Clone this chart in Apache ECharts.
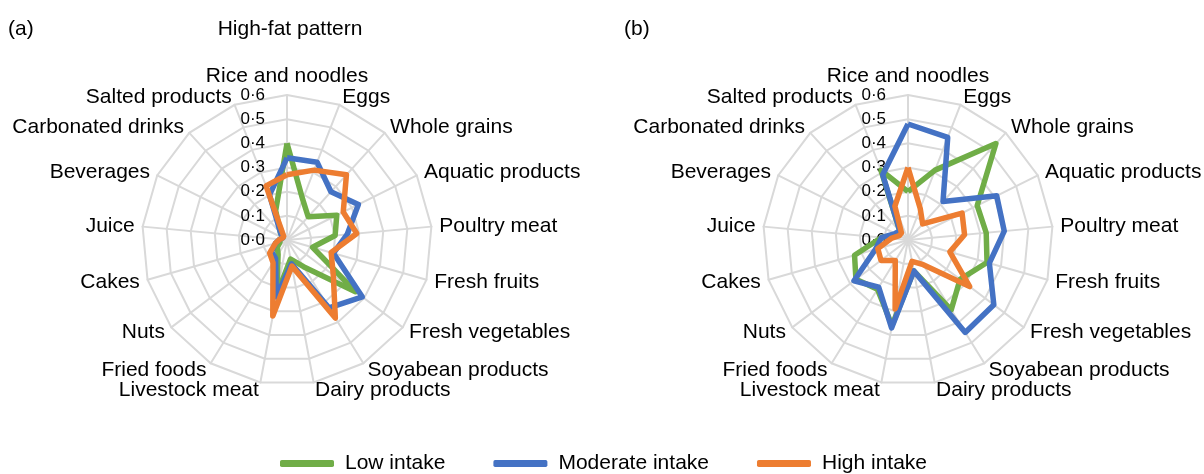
<!DOCTYPE html>
<html>
<head>
<meta charset="utf-8">
<script src="https://cdn.jsdelivr.net/npm/echarts@6/dist/echarts.min.js"></script>
<style>
  html, body { margin: 0; padding: 0; background: #fff; }
  #main { width: 1204px; height: 474px; }
</style>
</head>
<body>
<div id="main"></div>
<script>
// categories, clockwise from the top
const categories = ['Rice and noodles', 'Eggs', 'Whole grains', 'Aquatic products', 'Poultry meat',
  'Fresh fruits', 'Fresh vegetables', 'Soyabean products', 'Dairy products', 'Livestock meat',
  'Fried foods', 'Nuts', 'Cakes', 'Juice', 'Beverages', 'Carbonated drinks', 'Salted products']
const tickValues = [0, 0.1, 0.2, 0.3, 0.4, 0.5, 0.6]
const seriesNames = ['Low intake', 'Moderate intake', 'High intake']

// (a) High-fat pattern
const lowA = [0.40, 0.18, 0.13, 0.23, 0.20, 0.11, 0.355, 0.13, 0.08, 0.23, 0.07, 0.05, 0.03, 0.03, 0.02, 0.04, 0.13]
const modA = [0.34, 0.345, 0.27, 0.33, 0.25, 0.20, 0.39, 0.33, 0.10, 0.24, 0.09, 0.08, 0.05, 0.03, 0.02, 0.04, 0.20]
const highA = [0.27, 0.31, 0.365, 0.26, 0.29, 0.19, 0.24, 0.38, 0.11, 0.32, 0.11, 0.09, 0.05, 0.03, 0.02, 0.02, 0.24]

// (b)
const lowB = [0.20, 0.31, 0.54, 0.32, 0.325, 0.34, 0.27, 0.34, 0.13, 0.36, 0.24, 0.27, 0.23, 0.11, 0.05, 0.05, 0.31]
const modB = [0.48, 0.455, 0.215, 0.41, 0.40, 0.35, 0.445, 0.45, 0.13, 0.37, 0.23, 0.28, 0.14, 0.11, 0.06, 0.05, 0.29]
const highB = [0.30, 0.14, 0.09, 0.25, 0.235, 0.18, 0.32, 0.12, 0.09, 0.29, 0.10, 0.14, 0.13, 0.07, 0.04, 0.04, 0.15]

const colors = ['#70ad47', '#4472c4', '#ed7d31']
const font = 'Liberation Sans, Arial, sans-serif'

// echarts lays indicators out counter-clockwise, so flip everything after the first
const cw = (arr) => [arr[0]].concat(arr.slice(1).reverse())

let radar = (center) => {
  return {
    center: center,
    radius: 145,
    startAngle: 90,
    shape: 'polygon',
    splitNumber: tickValues.length - 1,
    nameGap: 8,
    indicator: cw(categories).map((name, i) => ({
      name: name,
      min: tickValues[0],
      max: tickValues[tickValues.length - 1],
      axisLabel: { show: i === 0 }
    })),
    axisName: { color: '#000', fontSize: 21, fontFamily: font },
    splitLine: { lineStyle: { color: '#d9d9d9', width: 2 } },
    splitArea: { show: false },
    axisLine: { lineStyle: { color: '#d9d9d9', width: 2 } },
    axisTick: { show: false },
    axisLabel: {
      show: false,
      showMinLabel: true,
      showMaxLabel: true,
      fontSize: 17,
      color: '#000',
      fontFamily: font,
      margin: 22,
      formatter: (v) => v.toFixed(1).replace('.', '·')
    }
  }
}

let series = (idx, groups) => {
  return {
    type: 'radar',
    radarIndex: idx,
    symbol: 'none',
    data: groups.map((vals, i) => ({
      name: seriesNames[i],
      value: cw(vals),
      itemStyle: { color: colors[i] },
      lineStyle: { color: colors[i], width: 5.5 }
    }))
  }
}

let title = (text, left, align) => ({
  text: text, left: left, top: 14, textAlign: align,
  textStyle: { fontSize: 21, fontWeight: 'normal', color: '#000', fontFamily: font }
})

let option = {
  animation: false,
  textStyle: { fontFamily: font },
  title: [
    title('(a)', 3, 'left'),
    title('High-fat pattern', 285, 'center'),
    title('(b)', 619, 'left')
  ],
  legend: {
    data: seriesNames,
    left: 280,
    top: 453,
    padding: 0,
    icon: 'roundRect',
    itemWidth: 54,
    itemHeight: 7,
    itemGap: 48,
    textStyle: { fontSize: 21, color: '#000', fontFamily: font, padding: [0, 0, 0, 6] }
  },
  radar: [radar([287, 240]), radar([908, 240])],
  series: [
    series(0, [lowA, modA, highA]),
    series(1, [lowB, modB, highB])
  ]
}

var myChart = echarts.init(document.getElementById('main'))
option && myChart.setOption(option)
</script>
</body>
</html>
